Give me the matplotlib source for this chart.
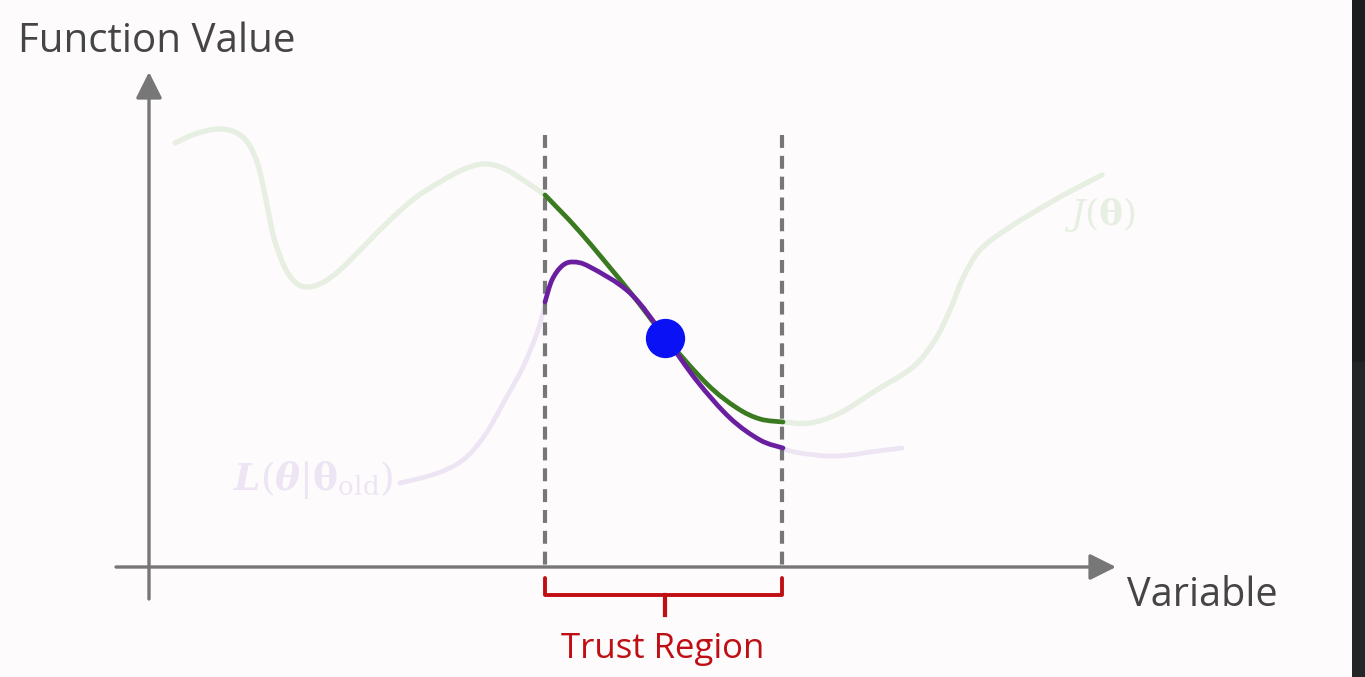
"""
Trust region sketch: J(theta) and surrogate L(theta|theta_old)
"""
import numpy as np
import matplotlib.pyplot as plt
from matplotlib.patches import Rectangle, PathPatch
from matplotlib.path import Path

# curve points (pixel coordinates, y downwards)
j_left_x = [175, 195, 217, 235, 248, 258, 266, 274, 285, 296, 307, 322, 340, 365, 390, 415, 440, 462, 483, 503, 523, 545]
j_left_y = [143, 134, 129, 132, 143, 165, 200, 238, 268, 283, 287, 283, 270, 245, 220, 198, 182, 170, 164, 168, 180, 195]
j_mid_x = [545, 580, 630, 665, 707, 737, 760, 783]
j_mid_y = [195, 232, 292, 337, 384, 408, 419, 422]
j_right_x = [783, 810, 840, 875, 913, 935, 950, 963, 980, 1010, 1060, 1102]
j_right_y = [422, 423, 413, 391, 367, 340, 310, 278, 250, 227, 197, 175]

l_left_x = [400, 435, 463, 485, 505, 523, 537, 545]
l_left_y = [483, 474, 460, 435, 400, 367, 333, 305]
l_mid_x = [545, 552, 562, 573, 590, 630, 665, 697, 730, 760, 783]
l_mid_y = [302, 280, 266, 262, 267, 293, 337, 381, 418, 440, 448]
l_right_x = [783, 800, 827, 850, 870, 902]
l_right_y = [449, 453, 456, 455, 452, 448]

current_point = (665, 338)
region_x = [545, 782]

GRAY = '#777777'
TEXT = '#454545'
FAINT_GREEN = '#e6efe2'
DARK_GREEN = '#3a7a20'
PURPLE = '#6a1fa0'
FAINT_PURPLE = '#ede5f4'
RED = '#c00f14'

plt.rcParams['mathtext.fontset'] = 'dejavuserif'


def smooth_curve(ax, xs, ys, **kw):
    # catmull-rom style bezier through the read points, drawn as a path
    pts = np.column_stack([xs, ys]).astype(float)
    verts = [pts[0]]
    codes = [Path.MOVETO]
    for i in range(len(pts) - 1):
        p0 = pts[i - 1] if i > 0 else pts[i]
        p1, p2 = pts[i], pts[i + 1]
        p3 = pts[i + 2] if i + 2 < len(pts) else pts[i + 1]
        verts += [p1 + (p2 - p0) / 6, p2 - (p3 - p1) / 6, p2]
        codes += [Path.CURVE4] * 3
    ax.add_patch(PathPatch(Path(verts, codes), fill=False, capstyle='round', **kw))


fig = plt.figure(figsize=(13.65, 6.77), dpi=100, facecolor='#fdfbfc')
ax = fig.add_axes([0, 0, 1, 1])
ax.set_xlim(0, 1365)
ax.set_ylim(677, 0)
ax.axis('off')

# dark strip on the right edge
ax.add_patch(Rectangle((1352, 0), 13, 362, color='#1c1d1f', lw=0))
ax.add_patch(Rectangle((1352, 362), 13, 315, color='#242527', lw=0))

# axes arrows
arrow = dict(arrowstyle='-|>,head_length=0.8,head_width=0.4', color=GRAY, lw=2.4,
             mutation_scale=20, shrinkA=0, shrinkB=0)
ax.annotate('', xy=(149, 72), xytext=(149, 599), arrowprops=arrow)
ax.annotate('', xy=(1116, 567), xytext=(116, 567), arrowprops=arrow)

# trust region bounds
for xv in region_x:
    ax.plot([xv, xv], [135, 571], color=GRAY, lw=3.0, ls=(0, (3.1, 1.9)))

# faint full curves
smooth_curve(ax, j_left_x, j_left_y, edgecolor=FAINT_GREEN, lw=3.8)
smooth_curve(ax, j_right_x, j_right_y, edgecolor=FAINT_GREEN, lw=3.8)
smooth_curve(ax, l_left_x, l_left_y, edgecolor=FAINT_PURPLE, lw=3.4)
smooth_curve(ax, l_right_x, l_right_y, edgecolor=FAINT_PURPLE, lw=3.4)

# parts inside the trust region
smooth_curve(ax, j_mid_x, j_mid_y, edgecolor=DARK_GREEN, lw=3.4, zorder=3)
smooth_curve(ax, l_mid_x, l_mid_y, edgecolor=PURPLE, lw=3.4, zorder=3)
ax.scatter([current_point[0]], [current_point[1]], s=800, color='#0a12f5', zorder=5, lw=0)

# brace under the trust region
bx0, bx1 = region_x
ax.plot([bx0, bx0, bx1, bx1], [578, 595, 595, 578], color=RED, lw=2.8,
        solid_joinstyle='round', solid_capstyle='round')
ax.plot([(bx0 + bx1) / 2 + 1] * 2, [595, 615], color=RED, lw=3.0)

# text
ax.text(18, 52, 'Function Value', fontsize=29, color=TEXT, family='Open Sans', va='baseline')
ax.text(1127, 606, 'Variable', fontsize=28.5, color=TEXT, family='Open Sans', va='baseline')
ax.text(663, 658, 'Trust Region', fontsize=25, color=RED, family='Open Sans',
        ha='center', va='baseline')
ax.text(1100, 214, r'$J(\mathbf{\theta})$', fontsize=26, color=FAINT_GREEN,
        ha='center', va='center')
ax.text(313, 480, r'$\mathbfit{L}(\mathbfit{\theta}|\mathbf{\theta}_{\mathrm{old}})$',
        fontsize=27, color=FAINT_PURPLE, ha='center', va='center')

fig.savefig('out.png', dpi=100, facecolor=fig.get_facecolor())
